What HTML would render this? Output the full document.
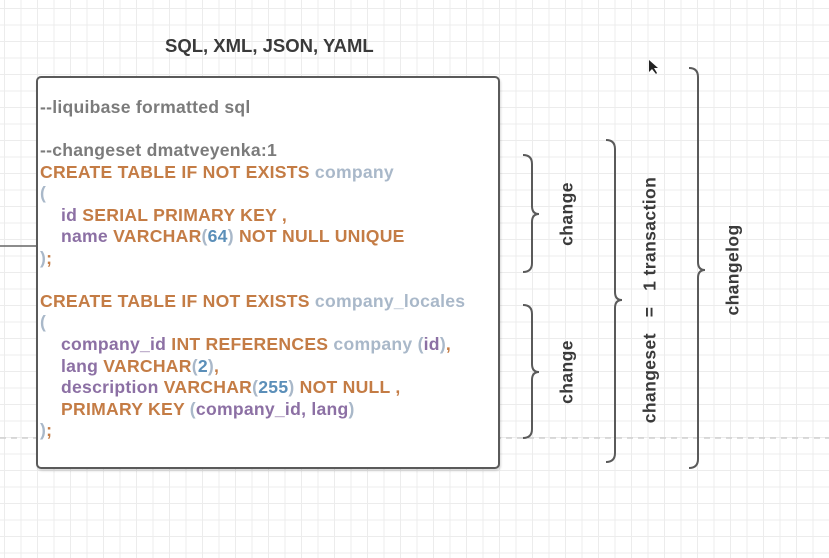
<!DOCTYPE html>
<html><head><meta charset="utf-8"><style>
html,body{margin:0;padding:0;}
body{width:829px;height:558px;overflow:hidden;position:relative;background:#fff;
background-image:linear-gradient(#ececec 1px,transparent 1px),linear-gradient(90deg,#ececec 1px,transparent 1px);
background-size:16.5px 16.5px;background-position:4px 8px;font-family:"Liberation Sans",sans-serif;font-weight:bold;}
.box{position:absolute;left:36px;top:76px;width:460px;height:389px;border:2px solid #5a5a5a;border-radius:5px;background:#fff;box-shadow:1px 2px 2px rgba(0,0,0,.15);}
.code{position:absolute;left:40px;top:97px;font-size:17.6px;letter-spacing:0.25px;line-height:21.55px;white-space:pre;color:#7b7b7b;}
.i{display:inline-block;width:21px;}
.o{color:#c47c45}.p{color:#8c70a4}.l{color:#a9b8c9}.n{color:#5b8fb9}.g{color:#7b7b7b}
.t{position:absolute;font-size:17.5px;letter-spacing:0.4px;color:#3a3a3a;white-space:nowrap;}
</style></head><body>
<svg width="829" height="558" style="position:absolute;left:0;top:0">
<line x1="0" y1="246" x2="36" y2="246" stroke="#666" stroke-width="1.5"/>
<line x1="0" y1="438" x2="829" y2="438" stroke="#c8c8c8" stroke-width="1.2" stroke-dasharray="6,5"/>
<g fill="none" stroke="#5a5a5a" stroke-width="2">
<path d="M523 155 Q532 155 532 164 L532 206 Q532 214 539 214 Q532 214 532 222 L532 263 Q532 272 523 272"/>
<path d="M523 305 Q532 305 532 314 L532 364 Q532 372 539 372 Q532 372 532 380 L532 429 Q532 438 523 438"/>
<path d="M606 140 Q615 140 615 149 L615 292 Q615 300 622 300 Q615 300 615 308 L615 453 Q615 462 606 462"/>
<path d="M689 68 Q698 68 698 77 L698 262 Q698 270 705 270 Q698 270 698 278 L698 459 Q698 468 689 468"/>
</g>
<path d="M649 60 L649 72 L652 69 L656 74 L657 73 L654 68 L658 68 Z" fill="#222"/>
</svg>
<div class="t" style="left:165px;top:35px;font-size:18.5px;letter-spacing:0;">SQL, XML, JSON, YAML</div>
<div class="box"></div>
<div class="code"><span class="g">--liquibase formatted sql</span>

<span class="g">--changeset dmatveyenka:1</span>
<span class="o">CREATE TABLE IF NOT EXISTS </span><span class="l">company</span>
<span class="l">(</span>
<span class="i"></span><span class="p">id</span><span class="o"> SERIAL PRIMARY KEY ,</span>
<span class="i"></span><span class="p">name</span><span class="o"> VARCHAR</span><span class="l">(</span><span class="n">64</span><span class="l">)</span><span class="o"> NOT NULL UNIQUE</span>
<span class="l">)</span><span class="o">;</span>

<span class="o">CREATE TABLE IF NOT EXISTS </span><span class="l">company_locales</span>
<span class="l">(</span>
<span class="i"></span><span class="p">company_id</span><span class="o"> INT REFERENCES </span><span class="l">company </span><span class="l">(</span><span class="p">id</span><span class="l">)</span><span class="o">,</span>
<span class="i"></span><span class="p">lang</span><span class="o"> VARCHAR</span><span class="l">(</span><span class="n">2</span><span class="l">)</span><span class="o">,</span>
<span class="i"></span><span class="p">description</span><span class="o"> VARCHAR</span><span class="l">(</span><span class="n">255</span><span class="l">)</span><span class="o"> NOT NULL ,</span>
<span class="i"></span><span class="o">PRIMARY KEY </span><span class="l">(</span><span class="p">company_id, lang</span><span class="l">)</span>
<span class="l">)</span><span class="o">;</span></div>
<div class="t" style="left:567px;top:214px;transform:translate(-50%,-50%) rotate(-90deg);">change</div>
<div class="t" style="left:567px;top:372px;transform:translate(-50%,-50%) rotate(-90deg);">change</div>
<div class="t" style="left:650px;top:300px;transform:translate(-50%,-50%) rotate(-90deg);">changeset &nbsp;&nbsp;= &nbsp;&nbsp;1 transaction</div>
<div class="t" style="left:733px;top:270px;transform:translate(-50%,-50%) rotate(-90deg);">changelog</div>
</body></html>
